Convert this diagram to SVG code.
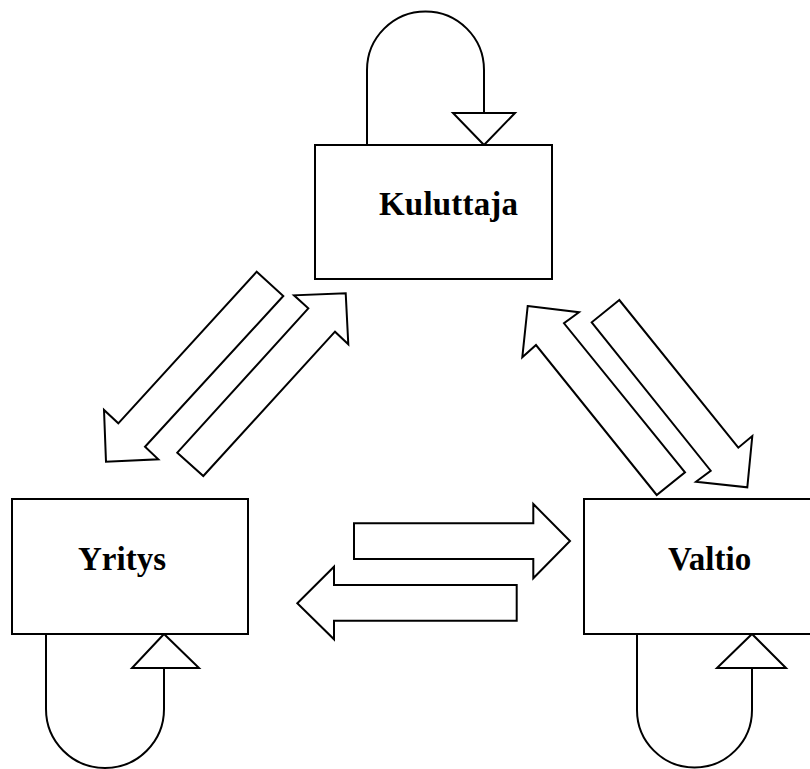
<svg xmlns="http://www.w3.org/2000/svg" width="810" height="769" viewBox="0 0 810 769">
<style>
.box{fill:#fff;stroke:#000;stroke-width:2}
.lbl{font-family:"Liberation Serif","Times New Roman",serif;font-weight:bold;font-size:33px;fill:#000}
.loop{fill:none;stroke:#000;stroke-width:2}
.head{fill:#fff;stroke:#000;stroke-width:2;stroke-linejoin:miter}
.blk{fill:#fff;stroke:#000;stroke-width:2;stroke-linejoin:miter}
</style>
<rect width="810" height="769" fill="#fff"/>
<g id="connectors">
<path class="loop" d="M367,145 V70 A58.5,58.5 0 0 1 484,70 V113"/>
<polygon class="head" points="453,113 515,113 484,145"/>
<path class="loop" d="M46,634 V709 A59,59 0 0 0 164,709 V668"/>
<polygon class="head" points="132,668 199,668 164,634"/>
<path class="loop" d="M637,634 V710 A57.5,57.5 0 0 0 752,710 V668"/>
<polygon class="head" points="717,668 786,668 752,634"/>
<polygon class="blk" points="256.7,271.7 283.3,296 145,446.7 158.3,459.3 106,461.7 104,410 118.3,423.3"/>
<polygon class="blk" points="177.3,452.7 203.3,476 335,331.7 348.3,344.3 345.7,293.3 294,295.3 308.3,308.3"/>
<polygon class="blk" points="527.7,306 579,312.3 564,323.3 685,472.3 656.7,495 536,345 522.3,357.3"/>
<polygon class="blk" points="619.3,300 591.7,322.3 710.7,470.7 696,481.7 747.3,487.3 752.3,436 738.3,447.7"/>
<polygon class="blk" points="354,523.3 533.3,523.3 533.3,504 570,541 533.3,578.3 533.3,559 354,559"/>
<polygon class="blk" points="516.7,585 334,585 334,566.7 297.3,603.3 334,639.3 334,620.7 516.7,620.7"/>
</g>
<g id="kuluttaja">
<rect class="box" x="315" y="145" width="237" height="134"/>
<text class="lbl" x="379" y="215" textLength="139" lengthAdjust="spacing">Kuluttaja</text>
</g>
<g id="yritys">
<rect class="box" x="12" y="499" width="236" height="135"/>
<text class="lbl" x="78" y="570">Yritys</text>
</g>
<g id="valtio">
<rect class="box" x="584" y="499" width="240" height="135"/>
<text class="lbl" x="668" y="570">Valtio</text>
</g>
</svg>
